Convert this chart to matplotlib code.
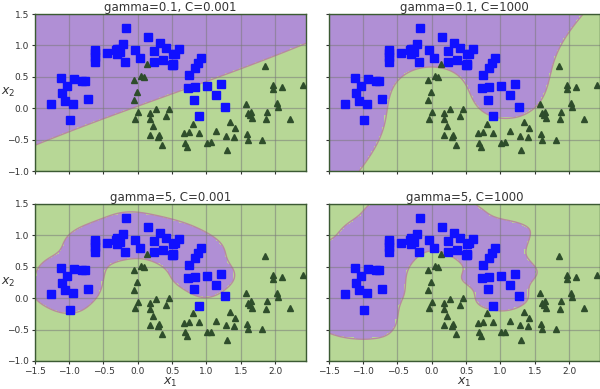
import numpy as np
import matplotlib
matplotlib.use("Agg")
import matplotlib.pyplot as plt
from matplotlib.colors import ListedColormap

# Moons data (class 0 = blue squares, class 1 = green triangles)
blue_x = [-0.17, 0.146, 0.325, 0.41, 0.60, 0.52, 0.54, 0.238, 0.374, 0.238,
          0.50, 0.51, -0.04, 0.034, -0.19, -0.22, -0.277, -0.316, -0.296, -0.26,
          -0.45, -0.63, -0.63, -0.63, -0.63, 0.917, 0.87, 0.83, 0.743, 0.733,
          0.84, 1.005, 1.21, 1.136, 1.277, 0.82, 0.888, -1.121, -0.927, -0.81,
          -0.77, -1.03, -1.10, -1.058, -0.942, -0.723, -1.262, -0.99, -0.30, 0.52]
blue_y = [1.275, 1.138, 1.037, 0.963, 0.94, 0.857, 0.87, 0.915, 0.767, 0.735,
          0.683, 0.70, 0.926, 0.80, 0.735, 1.02, 0.937, 0.926, 0.857, 0.90,
          0.884, 0.926, 0.873, 0.81, 0.73, 0.80, 0.714, 0.645, 0.524, 0.328,
          0.339, 0.349, 0.38, 0.212, 0.026, 0.138, -0.12, 0.487, 0.466, 0.44,
          0.44, 0.354, 0.238, 0.122, 0.074, 0.153, 0.063, -0.185, 0.95, 0.69]
green_x = [0.131, -0.053, 0.053, 0.092, -0.015, -0.058, 0.01, -0.034, 0.184, 0.184,
           0.272, 0.408, 0.461, 0.223, 0.175, 0.316, 0.29, 0.354, 0.68, 0.752,
           0.80, 0.888, 0.684, 0.714, 1.014, 1.063, 1.14, 1.28, 1.30, 1.40,
           1.41, 1.35, 1.59, 1.61, 1.806, 1.573, 1.607, 1.63, 1.645, 1.66,
           1.864, 1.879, 2.024, 2.044, 2.218, 1.859, 1.966, 1.97, 2.10, 2.40]
green_y = [0.70, 0.45, 0.508, 0.503, 0.26, 0.132, -0.058, -0.164, -0.079, -0.175,
           -0.01, -0.116, -0.005, -0.286, -0.423, -0.418, -0.45, -0.577, -0.39, -0.376,
           -0.243, -0.386, -0.545, -0.608, -0.545, -0.54, -0.365, -0.434, -0.66, -0.45,
           -0.32, -0.217, -0.407, -0.497, -0.497, 0.074, -0.079, -0.106, -0.053, -0.16,
           -0.175, -0.053, 0.079, 0.016, -0.164, 0.667, 0.37, 0.30, 0.333, 0.365]

gammas = [0.1, 0.1, 5, 5]
Cs = [0.001, 1000, 0.001, 1000]
axes_lim = [-1.5, 2.45, -1, 1.5]

X = np.c_[blue_x + green_x, blue_y + green_y]
y = np.r_[-np.ones(len(blue_x)), np.ones(len(green_x))]

# standard scaling like StandardScaler
mu, sd = X.mean(axis=0), X.std(axis=0)
Xs = (X - mu) / sd


def rbf(A, B, gamma):
    d = (A ** 2).sum(1)[:, None] + (B ** 2).sum(1)[None, :] - 2 * A @ B.T
    return np.exp(-gamma * d)


def svm_fit(K, y, C, eps=1e-3, max_iter=200000):
    # libsvm style SMO
    n = len(y)
    Q = np.outer(y, y) * K
    QD = np.diag(Q).copy()
    a = np.zeros(n)
    G = -np.ones(n)
    for _ in range(max_iter):
        yG = -y * G
        Iup = ((y > 0) & (a < C)) | ((y < 0) & (a > 0))
        Ilow = ((y > 0) & (a > 0)) | ((y < 0) & (a < C))
        idx_up = np.where(Iup)[0]
        i = idx_up[np.argmax(yG[idx_up])]
        Gmax = yG[i]
        Gmin = yG[Ilow].min() if Ilow.any() else np.inf
        if Gmax - Gmin < eps:
            break
        cand = np.where(Ilow & (yG < Gmax))[0]
        b = Gmax - yG[cand]
        quad = np.maximum(K[i, i] + np.diag(K)[cand] - 2 * K[i, cand], 1e-12)
        j = cand[np.argmin(-(b ** 2) / quad)]
        ai, aj = a[i], a[j]
        if y[i] != y[j]:
            qc = max(QD[i] + QD[j] + 2 * Q[i, j], 1e-12)
            delta = (-G[i] - G[j]) / qc
            diff = a[i] - a[j]
            a[i] += delta
            a[j] += delta
            if diff > 0:
                if a[j] < 0:
                    a[j] = 0
                    a[i] = diff
            else:
                if a[i] < 0:
                    a[i] = 0
                    a[j] = -diff
            if diff > 0:
                if a[i] > C:
                    a[i] = C
                    a[j] = C - diff
            else:
                if a[j] > C:
                    a[j] = C
                    a[i] = C + diff
        else:
            qc = max(QD[i] + QD[j] - 2 * Q[i, j], 1e-12)
            delta = (G[i] - G[j]) / qc
            s = a[i] + a[j]
            a[i] -= delta
            a[j] += delta
            if s > C:
                if a[i] > C:
                    a[i] = C
                    a[j] = s - C
            else:
                if a[j] < 0:
                    a[j] = 0
                    a[i] = s
            if s > C:
                if a[j] > C:
                    a[j] = C
                    a[i] = s - C
            else:
                if a[i] < 0:
                    a[i] = 0
                    a[j] = s
        G += Q[:, i] * (a[i] - ai) + Q[:, j] * (a[j] - aj)
    # rho
    yG = y * G
    ub, lb, sfree, nfree = np.inf, -np.inf, 0.0, 0
    for t in range(n):
        if a[t] >= C:
            if y[t] < 0:
                ub = min(ub, yG[t])
            else:
                lb = max(lb, yG[t])
        elif a[t] <= 0:
            if y[t] > 0:
                ub = min(ub, yG[t])
            else:
                lb = max(lb, yG[t])
        else:
            nfree += 1
            sfree += yG[t]
    rho = sfree / nfree if nfree > 0 else (ub + lb) / 2
    return a, rho


purple = "#b08fd5"
green = "#b7d796"
cmap = ListedColormap([purple, green])
text_col = "#333333"
spine_col = "#3b5a33"

fig, axs = plt.subplots(2, 2, figsize=(6, 3.89), dpi=100)
positions = [[0.058, 0.56, 0.452, 0.404], [0.548, 0.56, 0.452, 0.404],
             [0.058, 0.072, 0.452, 0.404], [0.548, 0.072, 0.452, 0.404]]

x0s = np.linspace(axes_lim[0], axes_lim[1], 100)
x1s = np.linspace(axes_lim[2], axes_lim[3], 100)
x0, x1 = np.meshgrid(x0s, x1s)
grid_pts = (np.c_[x0.ravel(), x1.ravel()] - mu) / sd

for k, ax in enumerate(axs.ravel()):
    ax.set_position(positions[k])
    gamma, C = gammas[k], Cs[k]
    K = rbf(Xs, Xs, gamma)
    a, rho = svm_fit(K, y, C)
    dec = (rbf(grid_pts, Xs, gamma) @ (a * y) - rho).reshape(x0.shape)
    pred = (dec > 0).astype(float)
    ax.contourf(x0, x1, pred, levels=[-0.5, 0.5, 1.5], cmap=cmap, zorder=0)
    ax.contour(x0, x1, dec, levels=[0], colors="#b88a9e", linewidths=1.0, zorder=0.5)
    ax.plot(blue_x, blue_y, "s", color="#1010ff", markersize=5.5, zorder=3)
    ax.plot(green_x, green_y, "^", color="#2e4d2b", markersize=5, zorder=3)
    ax.axis(axes_lim)
    ax.grid(True, color="#7a7a7a", alpha=0.55, linewidth=0.9)
    ax.set_title(f"gamma={gamma}, C={C}", fontsize=8.5, color=text_col, pad=2)
    ax.tick_params(labelsize=6.5, colors=text_col, length=2.5, pad=1.5)
    ax.set_xticks([-1.5, -1.0, -0.5, 0.0, 0.5, 1.0, 1.5, 2.0])
    ax.set_yticks([-1.0, -0.5, 0.0, 0.5, 1.0, 1.5])
    for sp in ax.spines.values():
        sp.set_color(spine_col)
        sp.set_linewidth(1.0)
    if k in (0, 1):
        ax.set_xticklabels([])
    else:
        ax.set_xlabel(r"$x_1$", fontsize=9, color=text_col, labelpad=0)
    if k in (1, 3):
        ax.set_yticklabels([])
    else:
        ax.set_ylabel(r"$x_2$", fontsize=9, color=text_col, rotation=0,
                      ha="center", va="center")
        ax.yaxis.set_label_coords(-0.098, 0.5)

fig.savefig("out.png", dpi=100)
